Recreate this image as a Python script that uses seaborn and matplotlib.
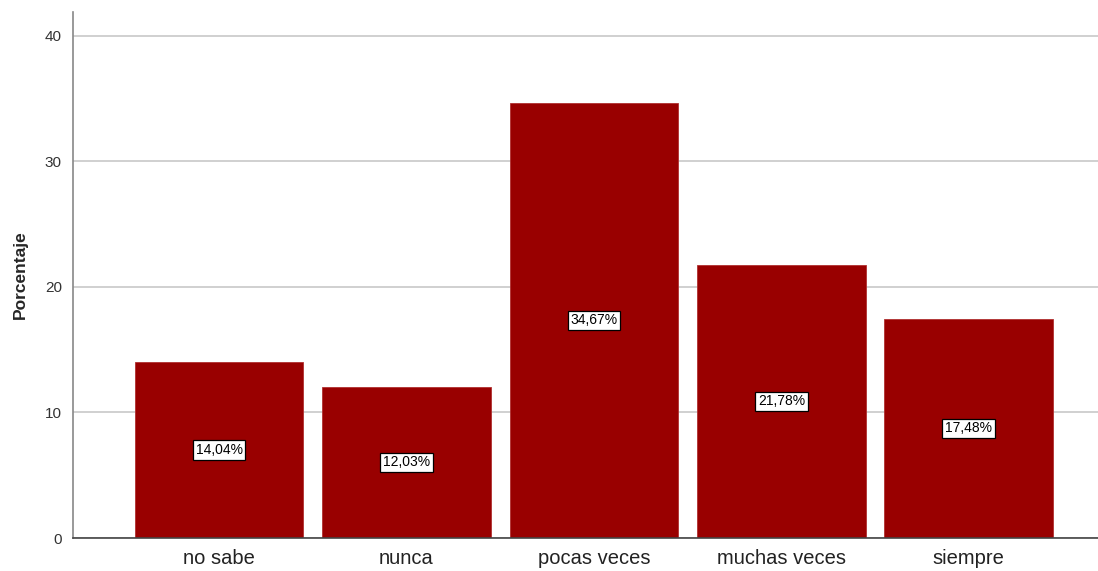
import matplotlib
matplotlib.use("Agg")
import matplotlib.pyplot as plt
import seaborn as sns
import pandas as pd

categories = ["no sabe", "nunca", "pocas veces", "muchas veces", "siempre"]
values = [14.04, 12.03, 34.67, 21.78, 17.48]
labels = ["14,04%", "12,03%", "34,67%", "21,78%", "17,48%"]
yticks = [0, 10, 20, 30, 40]

sns.set_style("white")
plt.rcParams['font.family'] = ['Liberation Sans', 'DejaVu Sans']

df = pd.DataFrame({"cat": categories, "val": values})

fig = plt.figure(figsize=(10.98, 5.71), dpi=100)
ax = fig.add_axes([73/1098, 33/571, 1 - 73/1098, (538-12)/571])

sns.barplot(data=df, x="cat", y="val", color="#990000", width=0.9,
            saturation=1, ax=ax, zorder=2, edgecolor="#b03030", linewidth=0.6)

ax.set_ylim(0, 41.9)
ax.set_xlim(-0.78, 4.69)
ax.set_yticks(yticks)
ax.set_yticklabels([str(t) for t in yticks], fontsize=11, color="#333333")
ax.tick_params(axis="y", length=6, color="#b0b0b0", width=1, pad=2)
ax.tick_params(axis="x", length=0, labelsize=14.5, pad=8, labelcolor="#222222")
ax.yaxis.grid(True, color="#c8c8c8", linewidth=1.2, zorder=0)
ax.set_axisbelow(True)
ax.set_xlabel("")
ax.set_ylabel("Porcentaje", fontsize=12.5, fontweight="bold", labelpad=12)

for s in ["top", "right"]:
    ax.spines[s].set_visible(False)
ax.spines["left"].set_color("#888888")
ax.spines["left"].set_linewidth(1.2)
ax.spines["bottom"].set_color("#444444")
ax.spines["bottom"].set_linewidth(1.2)

for i, (v, lab) in enumerate(zip(values, labels)):
    ax.text(i, v / 2, lab, ha="center", va="center", fontsize=10, color="black",
            zorder=5,
            bbox=dict(boxstyle="square,pad=0.2", facecolor="white",
                      edgecolor="black", linewidth=0.9))

fig.savefig("out.png", dpi=100)
